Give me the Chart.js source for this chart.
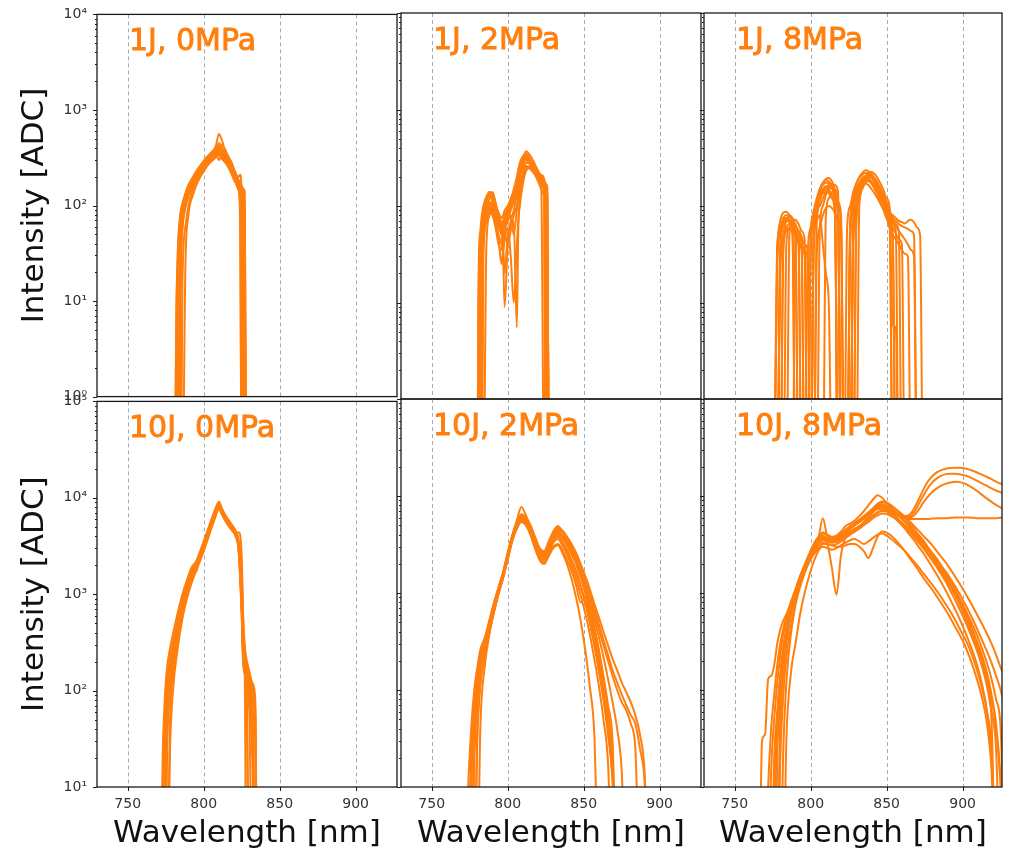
<!DOCTYPE html>
<html>
<head>
<meta charset="utf-8">
<script src="https://cdn.jsdelivr.net/npm/chart.js@4.4.1/dist/chart.umd.min.js"></script>
<style>
  body { margin: 0; background: #fff; }
  #fig { position: relative; width: 1011px; height: 849px; overflow: hidden; background: #fff; }
  #fig canvas { position: absolute; }
</style>
</head>
<body>
<div id="fig"></div>
<script>
// Spectra per shot series: wavelength grid [nm] + intensity curves [ADC].
// 0 means no signal (drawn below the log axis floor).

const wl1J0 = [781,782,783,784,785,786,788,790,793,796,799,802,805,808,810,812,815,818,820,822,823,824,825,826,827,828];
const spec1J0 = [
  [0,0,0,12,40,70,110,140,180,220,260,300,340,380,410,370,310,250,210,180,150,60,0,0,0,0],
  [0,8,30,60,85,100,130,160,195,230,270,310,350,420,560,480,330,260,220,190,200,210,120,0,0,0],
  [0,0,15,45,75,95,125,150,185,215,250,280,300,330,360,340,300,240,200,170,160,150,140,50,0,0],
  [0,0,0,0,20,55,95,125,165,205,245,290,330,370,390,350,290,230,190,160,150,140,130,120,20,0],
  [0,0,10,40,70,90,120,145,175,210,240,275,310,350,450,400,320,260,230,200,180,160,110,0,0,0],
  [0,5,35,65,90,105,135,165,200,240,280,320,360,400,420,380,340,290,240,200,180,170,150,130,0,0],
  [0,0,0,8,30,60,100,130,170,200,235,265,290,320,340,310,270,220,185,160,145,130,60,0,0,0],
  [0,0,20,50,80,100,130,155,190,225,265,300,330,360,380,430,360,280,230,200,185,170,160,140,100,0],
  [0,0,0,25,60,85,115,140,170,200,235,270,310,340,370,330,290,240,210,180,165,150,140,0,0,0],
  [0,0,12,45,75,95,125,150,180,215,250,290,320,350,300,330,310,260,220,190,170,90,0,0,0,0],
  [0,0,0,0,0,15,60,100,150,190,230,270,300,330,350,320,280,230,200,175,165,155,145,135,0,0],
  [0,0,0,0,0,0,25,80,130,175,215,255,290,320,340,310,275,235,205,185,175,170,160,150,140,0]
];

const wl1J2 = [780,781,782,783,784,786,788,790,792,794,796,797,798,800,802,804,806,807,808,810,812,815,818,820,822,824,825,826,827];
const spec1J2 = [
  [0,10,35,60,80,110,140,130,90,70,60,55,65,80,110,150,200,240,280,330,350,300,250,220,200,180,0,0,0],
  [0,0,20,45,65,95,120,140,110,80,60,30,9,40,70,90,130,160,200,260,300,280,240,210,190,170,150,0,0],
  [0,0,0,25,50,80,100,90,70,50,40,35,45,60,30,10,40,70,120,200,250,260,230,200,180,160,140,120,0],
  [0,15,40,65,85,105,110,95,75,60,50,45,55,70,90,110,140,170,220,300,370,330,270,230,200,180,0,0,0],
  [0,0,12,40,60,85,95,85,65,45,25,35,50,40,55,70,5.5,60,100,170,230,250,220,190,170,150,140,130,0],
  [0,0,0,0,30,70,95,100,80,65,55,60,75,90,100,120,150,190,240,320,340,290,240,210,190,170,160,0,0],
  [0,20,45,70,90,115,130,110,85,70,65,70,80,95,120,140,170,210,260,310,330,300,260,230,210,190,0,0,0],
  [0,0,25,50,70,90,105,100,85,70,60,40,20,50,60,80,100,130,160,220,280,270,230,200,180,160,150,140,0],
  [0,0,15,35,55,75,85,80,60,40,35,50,60,70,80,50,90,110,150,210,260,240,210,180,150,130,120,0,0],
  [0,0,0,20,45,75,90,95,80,65,55,50,60,75,95,120,160,200,250,290,310,280,250,220,200,180,170,150,0],
  [0,0,0,0,0,40,80,110,100,85,75,80,90,100,115,130,150,180,230,290,320,290,250,225,205,185,170,160,0],
  [0,25,55,80,100,125,140,120,95,75,60,65,75,85,100,120,150,180,230,280,300,270,240,215,195,0,0,0,0]
];

const wl1J8 = [776,778,780,782,784,786,788,790,792,794,
  796,798,800,802,804,806,808,810,812,814,
  816,818,820,822,824,826,828,830,832,834,
  836,838,840,842,844,846,848,850,852,854,
  856,858,860,862,864,866,868,870,872,874,
  876,878,880];
const spec1J8 = [
  [0,30,70,85,87,80,70,55,40,0,
   0,0,40,80,110,140,170,190,195,180,
   150,100,0,0,0,60,120,170,200,220,
   235,230,215,190,165,140,115,90,70,50,
   0,0,0,0,0,0,0,0,0,0, 0,0,0],
  [0,0,40,65,75,72,60,45,0,0,
   0,30,60,90,120,150,165,175,170,150,
   110,0,0,0,0,0,50,100,140,170,
   185,190,180,165,150,130,110,95,85,80,
   75,70,68,66,70,72,68,60,50,0, 0,0,0],
  [0,0,0,35,55,60,55,50,40,35,
   0,0,0,50,90,120,140,150,145,130,
   90,0,0,0,0,0,0,80,130,160,
   175,180,175,160,140,120,100,80,60,40,
   0,0,0,0,0,0,0,0,0,0, 0,0,0],
  [0,25,55,70,75,70,60,0,0,0,
   0,0,0,0,70,100,120,140,160,170,
   165,140,0,0,0,70,110,150,175,195,
   205,210,200,185,165,140,120,95,70,5.6,
   5.6,0,0,0,0,0,0,0,0,0, 0,0,0],
  [0,0,20,45,60,65,62,55,45,38,
   30,0,35,70,100,130,150,160,150,120,
   80,0,0,0,0,40,90,130,160,180,
   190,185,170,150,130,110,95,80,70,60,
   52,45,40,0,0,0,0,0,0,0, 0,0,0],
  [0,0,0,0,40,60,65,60,50,0,
   0,0,0,45,85,115,140,155,165,160,
   140,110,60,0,0,0,60,110,150,180,
   200,210,205,190,170,150,130,110,90,75,
   65,55,0,0,0,0,0,0,0,0, 0,0,0],
  [0,0,30,50,60,58,52,0,0,0,
   0,0,0,40,70,80,40,20,9,0,
   0,0,0,0,0,0,70,110,140,160,
   170,165,150,135,120,105,90,75,60,0,
   0,0,0,0,0,0,0,0,0,0, 0,0,0],
  [0,0,0,40,70,80,75,65,55,45,
   0,0,0,0,0,60,100,130,150,155,
   145,120,0,0,0,0,40,90,130,165,
   190,200,195,180,160,140,120,100,85,75,
   70,65,62,60,58,55,50,0,0,0, 0,0,0],
  [0,0,0,0,0,50,70,72,65,55,
   45,0,0,60,110,150,175,185,180,160,
   120,70,0,0,0,0,0,60,120,160,
   200,220,225,215,195,170,145,120,95,0,
   0,0,0,0,0,0,0,0,0,0, 0,0,0],
  [0,0,35,60,70,68,60,50,0,0,
   0,0,50,85,110,125,135,140,135,120,
   100,0,0,0,0,50,100,140,170,185,
   195,190,180,160,140,115,95,75,60,50,
   45,40,35,32,30,0,0,0,0,0, 0,0,0],
  [0,0,0,0,0,0,0,45,50,42,
   35,28,0,0,0,0,0,80,120,140,
   130,110,80,0,0,0,0,0,100,150,
   180,200,205,195,175,150,125,100,80,65,
   55,0,0,0,0,0,0,0,0,0, 0,0,0],
  [0,40,60,75,80,78,70,62,55,48,
   40,35,0,0,30,60,80,95,100,95,
   85,70,55,0,60,100,140,170,195,210,
   220,215,200,180,160,135,115,95,80,70,
   62,55,50,45,40,35,30,0,0,0, 0,0,0]
];

const wl10J0 = [772,773,774,775,776,778,780,783,786,789,792,795,798,801,804,807,810,812,815,818,821,823,825,826,827,828,830,832,834,835];
const spec10J0 = [
  [0,0,0,20,60,140,250,450,750,1100,1500,2000,2600,3500,4800,6500,8500,7000,5800,5000,4200,3000,800,250,180,150,60,0,0,0],
  [0,0,15,45,100,190,300,520,850,1200,1700,2100,2700,3600,5000,6800,9100,7600,6200,5200,4400,3300,900,300,200,170,120,40,0,0],
  [0,0,0,0,25,90,180,370,650,1000,1400,1800,2400,3200,4400,6000,7800,6800,5500,4700,4000,2800,600,200,150,0,0,0,0,0],
  [0,10,40,80,130,220,330,560,900,1300,1800,1700,2800,3800,5200,7000,8200,7200,6000,5100,4300,3100,1200,350,220,180,140,100,0,0],
  [0,0,0,15,50,120,220,420,720,1050,1450,1950,2500,3300,4600,6200,8000,7400,6300,5400,4500,3500,1500,200,160,120,80,20,0,0],
  [0,0,20,55,110,200,310,500,800,1150,1750,2050,2600,3400,4700,6600,8800,7300,5900,5000,4300,4400,2500,500,250,200,150,110,60,0],
  [0,0,0,30,75,160,270,480,780,1100,1550,2000,2700,3700,5100,6700,8400,7100,5700,4800,4100,3000,700,220,170,140,100,60,30,0],
  [0,0,0,0,0,60,150,330,600,950,1350,1850,2450,3300,4500,6100,7900,6900,5600,4800,4000,2900,650,200,150,130,0,0,0,0],
  [0,0,10,40,90,170,280,490,820,1200,1650,2050,2650,3500,4900,6600,8600,7500,6100,5200,4400,3200,1000,260,190,160,130,90,50,0],
  [0,0,0,25,70,150,260,460,760,1100,1500,1950,2550,3450,4750,6400,8300,7200,5900,5000,4200,3100,850,240,170,140,110,70,0,0],
  [0,0,0,0,0,30,110,280,560,900,1300,1750,2300,3100,4300,5900,7600,6700,5600,4800,4100,3200,1800,600,300,220,160,120,80,0],
  [0,20,60,120,180,280,400,650,1000,1400,1900,2200,2900,3900,5300,7200,9000,7700,6300,5300,4500,3600,1100,320,210,170,0,0,0,0]
];

const wl10J2 = [772,774,776,778,780,782,785,788,791,794,
  797,800,803,806,809,812,815,818,821,824,
  827,830,833,836,839,842,845,848,851,854,
  857,860,863,866,869,872,875,878,881,884,
  887,890,893,896];
const spec10J2 = [
  [0,0,15,60,130,220,300,480,750,1100,
   1600,2500,3800,5000,6000,5500,4500,3300,2500,2300,
   2900,3600,3900,3400,2800,2200,1700,1200,820,520,
   300,160,80,35,12,0,0,0,0,0, 0,0,0,0],
  [0,0,0,30,90,180,270,440,700,1050,
   1500,2400,3900,5600,7700,6300,4800,3500,2600,2500,
   3300,4300,4900,4300,3500,2800,2200,1600,1100,750,
   450,260,140,70,30,0,0,0,0,0, 0,0,0,0],
  [0,0,0,0,40,120,230,400,650,1000,
   1450,2200,3400,4700,5800,5600,4700,3600,2800,2600,
   3200,4000,4500,4200,3600,3000,2400,1800,1300,900,
   620,420,290,200,140,100,75,62,45,25, 0,0,0,0],
  [0,10,40,100,170,260,350,530,800,1150,
   1650,2600,3900,5100,5900,5200,4200,3100,2300,2100,
   2600,3300,3600,3100,2500,1900,1400,950,620,380,
   210,110,50,18,0,0,0,0,0,0, 0,0,0,0],
  [0,0,10,50,120,210,290,460,730,1080,
   1550,2450,3700,4900,6300,5900,4900,3800,2900,2700,
   3400,4200,4700,4400,3800,3100,2500,1900,1400,1000,
   700,480,330,230,160,120,90,70,55,45, 25,12,0,0],
  [0,0,0,20,80,170,260,420,680,1020,
   1500,2300,3600,4800,5700,5400,4400,3200,2400,2200,
   2800,3500,3800,3300,2700,2100,1600,1150,780,490,
   290,160,85,40,15,0,0,0,0,0, 0,0,0,0],
  [0,0,20,70,140,230,310,500,780,1130,
   1620,2550,3900,5300,6500,6000,5000,3600,2700,2400,
   3000,3700,4100,3700,3100,2500,2000,1500,1050,700,
   430,250,130,60,20,0,0,0,0,0, 0,0,0,0],
  [0,0,0,25,90,190,280,450,720,1060,
   1520,2350,3650,5000,6100,5700,4600,3400,2600,2400,
   3100,3900,4300,3900,3300,2700,2100,1600,1150,800,
   540,350,220,130,75,40,15,0,0,0, 0,0,0,0],
  [0,0,0,0,30,110,220,390,640,980,
   1420,2250,3500,4600,5400,5000,4000,2900,2200,2000,
   2500,3000,3200,2800,2200,1700,1200,800,900,600,
   350,180,90,40,12,0,0,0,0,0, 0,0,0,0],
  [0,0,15,55,125,215,295,470,740,1090,
   1580,2480,3800,5100,6200,5800,4800,3700,2800,2650,
   3350,4150,4600,4350,3800,3200,2600,2000,1500,1100,
   780,560,400,290,210,160,120,95,75,55, 35,15,0,0],
  [0,0,20,65,135,225,305,490,770,1120,
   1610,2520,3850,4900,5600,5000,4000,2900,2200,2000,
   2400,2900,3100,2600,2000,1400,900,520,260,110,
   35,0,0,0,0,0,0,0,0,0, 0,0,0,0],
  [0,0,0,0,0,40,180,380,640,980,
   1450,2300,3600,4900,5900,5600,4600,3400,2600,2450,
   3050,3800,4200,3800,3200,2600,2000,1450,1000,650,
   380,200,100,45,15,0,0,0,0,0, 0,0,0,0]
];

const wl10J8 = [764,766,768,770,772,774,776,778,780,782,
  784,787,790,793,796,799,802,805,808,811,
  814,817,820,823,826,829,832,835,838,841,
  844,847,850,853,856,859,862,865,868,871,
  874,877,880,883,886,889,892,895,898,901,
  904,907,910,913,916,919,922,925,928];
const spec10J8 = [
  [0,0,30,35,130,140,180,300,420,520,
   600,800,1050,1400,1800,2300,2900,3400,3800,3600,
   3400,3500,3700,4000,4300,4600,4900,5300,5800,6300,
   6800,7100,7000,6600,6100,5500,4900,4300,3800,3300,
   2900,2500,2150,1850,1550,1300,1050,850,680,540,
   420,320,240,170,110,60,25,0,0],
  [0,0,0,0,0,0,20,60,150,280,
   420,700,1000,1350,1750,2200,2900,3600,5900,3800,
   3500,3400,3600,3900,4200,4500,4900,5400,6000,6800,
   7800,8200,7800,7200,6600,6000,5400,4800,4200,3700,
   3200,2800,2400,2050,1750,1480,1230,1000,800,640,
   500,390,300,220,150,90,45,12,0],
  [0,0,0,0,0,15,50,120,230,380,
   520,760,1050,1450,1900,2500,3100,3600,3900,3200,
   1800,960,2500,3800,4600,5000,5400,5800,6400,7000,
   7600,7500,7000,6400,5800,5200,4600,4000,3500,3000,
   2600,2200,1850,1550,1280,1050,850,680,540,420,
   320,240,170,110,60,20,0,0,0],
  [0,0,0,0,0,0,0,0,40,150,
   300,600,950,1350,1850,2500,3200,3800,4200,4000,
   3800,3900,4300,4900,5200,5600,6200,7000,8000,9200,
   10200,9600,8500,7600,6800,6100,5500,4900,4300,3800,
   3300,2900,2500,2150,1850,1550,1300,1080,880,710,
   570,450,350,260,190,130,80,40,0],
  [0,0,0,0,0,0,0,0,0,0,
   30,150,300,600,1000,1500,2100,2700,3200,3200,
   3100,3200,3400,3700,4000,4300,4600,5000,5400,5900,
   6300,6600,6500,6200,5800,5300,4800,4300,3800,3400,
   3000,2600,2250,1950,1650,1400,1150,950,760,600,
   460,350,260,190,130,80,40,10,0],
  [0,0,0,0,0,0,0,30,110,240,
   400,680,980,1380,1800,2350,2950,3450,3700,3600,
   3500,3600,3900,4200,4600,5000,5500,6000,6600,7300,
   8000,8600,8400,7900,7300,6700,6100,5500,4900,4400,
   3900,3500,3100,2700,2350,2050,1750,1480,1250,1040,
   860,710,580,470,380,300,230,170,130],
  [0,0,0,0,0,0,0,0,20,90,
   220,450,800,1200,1650,2100,2600,3000,3300,3200,
   3100,3000,3000,3100,3200,3200,3000,2700,2300,2900,
   3800,4300,4200,3900,3500,3100,2700,2300,2000,1700,
   1450,1250,1080,920,780,660,550,450,370,300,
   230,170,120,80,45,15,0,0,0],
  [0,0,0,0,0,0,0,40,120,260,
   400,650,950,1300,1700,2100,2500,2800,3000,2900,
   2800,2900,3100,3300,3500,3600,3400,3200,3400,3700,
   4000,4100,3900,3600,3300,3000,2700,2400,2100,1850,
   1600,1400,1220,1050,900,760,640,530,430,350,
   280,210,150,100,60,25,0,0,0],
  [0,0,0,0,0,0,10,50,130,260,
   430,720,1050,1450,1900,2450,3000,3500,3800,3700,
   3600,3700,4000,4400,4800,5200,5600,6100,6700,7300,
   7900,8200,7900,7300,6800,6400,6200,6400,7400,9200,
   11500,14000,16000,17500,18500,19100,19400,19500,19500,19300,
   18800,18100,17300,16500,15700,14900,14100,13400,12800],
  [0,0,0,0,0,0,0,25,90,200,
   360,640,950,1350,1800,2350,2950,3400,3700,3550,
   3450,3550,3850,4250,4650,5050,5450,5950,6500,7100,
   7600,7800,7500,7000,6500,6200,6000,6100,6800,8200,
   10000,12000,13800,15200,16200,16800,17000,17000,16800,16400,
   15800,15000,14200,13400,12700,12000,11400,10900,10500],
  [0,0,0,0,0,0,0,0,60,170,
   330,600,900,1300,1750,2300,2900,3350,3650,3500,
   3400,3500,3800,4200,4600,5000,5400,5900,6400,6900,
   7300,7400,7200,6800,6400,6100,6000,6000,6300,7200,
   8500,9800,11000,12000,12800,13400,13800,14000,13900,13500,
   12800,12000,11100,10200,9400,8700,8100,7600,7300],
  [0,0,0,0,0,0,0,35,120,240,
   400,700,1000,1400,1850,2400,3000,3450,3750,3600,
   3500,3600,3900,4300,4700,5100,5500,6000,6600,7200,
   7700,7900,7600,7100,6600,6200,5900,5800,5800,5800,
   5800,5800,5850,5900,5900,5900,5950,6000,6000,6000,
   6000,5950,5900,5900,5900,5900,5900,5950,5950],
  [0,0,0,0,0,0,0,0,0,25,
   120,380,750,1150,1600,2100,2700,3200,3500,3400,
   3300,3400,3600,3900,4200,4500,4800,5200,5700,6200,
   6700,7000,6900,6500,6000,5500,5000,4500,4000,3600,
   3200,2850,2500,2200,1900,1650,1400,1180,980,800,
   650,520,410,320,250,190,140,100,60],
  [0,0,0,0,10,40,90,180,300,430,
   560,800,1100,1500,1950,2500,3100,3700,4100,3900,
   3700,3800,4100,4500,4900,5300,5700,6200,6800,7500,
   8300,8800,8600,8000,7300,6600,5900,5200,4600,4000,
   3500,3000,2600,2250,1900,1600,1330,1080,870,690,
   530,400,290,200,120,50,0,0,0]
];

const panelLabels = ['1J, 0MPa', '1J, 2MPa', '1J, 8MPa', '10J, 0MPa', '10J, 2MPa', '10J, 8MPa'];
const panelWl = [wl1J0, wl1J2, wl1J8, wl10J0, wl10J2, wl10J8];
const panelSpec = [spec1J0, spec1J2, spec1J8, spec10J0, spec10J2, spec10J8];

const xTicks = [750, 800, 850, 900];
const xMin = 729.8;
const yRange = [[1, 1e4], [10, 1e5]];
const supDigits = ['⁰', '¹', '²', '³', '⁴', '⁵'];

// panel geometry in page pixels
const colLeft = [97, 401, 704];
const colWidth = [300, 300, 298];
const colXMax = [927.2, 927.2, 925.9];
const rowTop = [13, 399];
const rowHeight = [386, 388];
const pageH = 849;

const lineColor = '#ff7f0e';

Chart.defaults.font.family = '"DejaVu Sans", sans-serif';
Chart.defaults.color = '#333';

// 1..9 x 10^k tick values between lo and hi
function logTicks(lo, hi) {
  const out = [];
  for (let d = lo; d < hi; d *= 10) {
    for (let m = 1; m < 10; m++) out.push({ value: d * m, major: m === 1 });
  }
  out.push({ value: hi, major: true });
  return out;
}

// dashed vertical grid, outward tick marks, box frame, panel label
const panelDecor = {
  id: 'panelDecor',
  beforeDatasetsDraw(chart) {
    const { ctx, chartArea: a, scales: { x } } = chart;
    ctx.save();
    ctx.strokeStyle = 'rgba(140,150,168,0.8)';
    ctx.lineWidth = 1;
    ctx.setLineDash([4, 3]);
    xTicks.forEach(v => {
      const px = Math.round(x.getPixelForValue(v)) + 0.5;
      ctx.beginPath();
      ctx.moveTo(px, a.top);
      ctx.lineTo(px, a.bottom);
      ctx.stroke();
    });
    ctx.restore();
  },
  afterDraw(chart, args, opts) {
    const { ctx, chartArea: a, scales: { x, y } } = chart;
    ctx.save();
    ctx.strokeStyle = '#1a1a1a';
    ctx.lineWidth = 1;
    ctx.beginPath();
    y.ticks.forEach(t => {
      const py = Math.round(y.getPixelForValue(t.value)) + 0.5;
      const len = t.major ? 4 : 2;
      ctx.moveTo(a.left - len, py);
      ctx.lineTo(a.left, py);
    });
    if (opts.xMarks) {
      xTicks.forEach(v => {
        const px = Math.round(x.getPixelForValue(v)) + 0.5;
        ctx.moveTo(px, a.bottom);
        ctx.lineTo(px, a.bottom + 4);
      });
    }
    ctx.stroke();
    ctx.lineWidth = 1.3;
    ctx.strokeRect(a.left, a.top, a.right - a.left, a.bottom - a.top);

    // label drawn filled plus a thin stroke for a heavier look
    ctx.fillStyle = lineColor;
    ctx.strokeStyle = lineColor;
    ctx.lineWidth = 0.9;
    ctx.font = '30px "DejaVu Sans"';
    ctx.textBaseline = 'alphabetic';
    ctx.fillText(opts.text, a.left + 32, a.top + 36);
    ctx.strokeText(opts.text, a.left + 32, a.top + 36);
    ctx.restore();
  }
};

const fig = document.getElementById('fig');

panelLabels.forEach((label, i) => {
  const row = Math.floor(i / 3), col = i % 3;
  const padL = col === 0 ? colLeft[0] : 12;
  const padT = row === 0 ? rowTop[0] : 12;
  const padB = row === 0 ? 12 : pageH - (rowTop[1] + rowHeight[1]);
  const padR = 4;
  const [yMin, yMax] = yRange[row];
  const wl = panelWl[i];

  const canvas = document.createElement('canvas');
  canvas.width = padL + colWidth[col] + padR;
  canvas.height = padT + rowHeight[row] + padB;
  canvas.style.left = (colLeft[col] - padL) + 'px';
  canvas.style.top = (rowTop[row] - padT) + 'px';
  fig.appendChild(canvas);

  const datasets = panelSpec[i].map(curve => ({
    data: curve.map((v, k) => ({ x: wl[k], y: v > 0 ? v : yMin / 10 })),
    borderColor: lineColor,
    borderWidth: 2,
    pointRadius: 0,
    fill: false,
    cubicInterpolationMode: 'monotone'
  }));

  new Chart(canvas, {
    type: 'line',
    data: { datasets },
    options: {
      responsive: false,
      animation: false,
      devicePixelRatio: 1,
      events: [],
      layout: { padding: { top: padT, right: padR, left: 0, bottom: 0 } },
      plugins: {
        legend: { display: false },
        tooltip: { enabled: false },
        panelDecor: { text: label, xMarks: row === 1 }
      },
      scales: {
        x: {
          type: 'linear',
          min: xMin,
          max: colXMax[col],
          afterBuildTicks: s => { s.ticks = xTicks.map(v => ({ value: v })); },
          afterFit: s => { s.height = padB; },
          grid: { display: false, drawTicks: true, tickLength: 4 },
          border: { display: false },
          ticks: {
            display: row === 1,
            autoSkip: false,
            maxRotation: 0,
            padding: 5,
            color: '#333',
            font: { size: 14 },
            callback: v => String(v)
          },
          title: {
            display: row === 1,
            text: 'Wavelength [nm]',
            color: '#111',
            font: { size: 31, lineHeight: 1 },
            padding: 0
          }
        },
        y: {
          type: 'logarithmic',
          min: yMin,
          max: yMax,
          afterBuildTicks: s => { s.ticks = logTicks(yMin, yMax); },
          afterFit: s => { s.width = padL; },
          grid: { display: false, drawTicks: true, tickLength: 4 },
          border: { display: false },
          ticks: {
            display: col === 0,
            autoSkip: false,
            padding: 6,
            color: '#333',
            font: { size: 14 },
            callback: (v, idx, ticks) => ticks[idx].major ? '10' + supDigits[Math.round(Math.log10(v))] : ''
          },
          title: {
            display: col === 0,
            text: 'Intensity [ADC]',
            color: '#111',
            font: { size: 31, lineHeight: 1 },
            padding: { top: 19, bottom: 0 }
          }
        }
      }
    },
    plugins: [panelDecor]
  });
});
</script>
</body>
</html>
